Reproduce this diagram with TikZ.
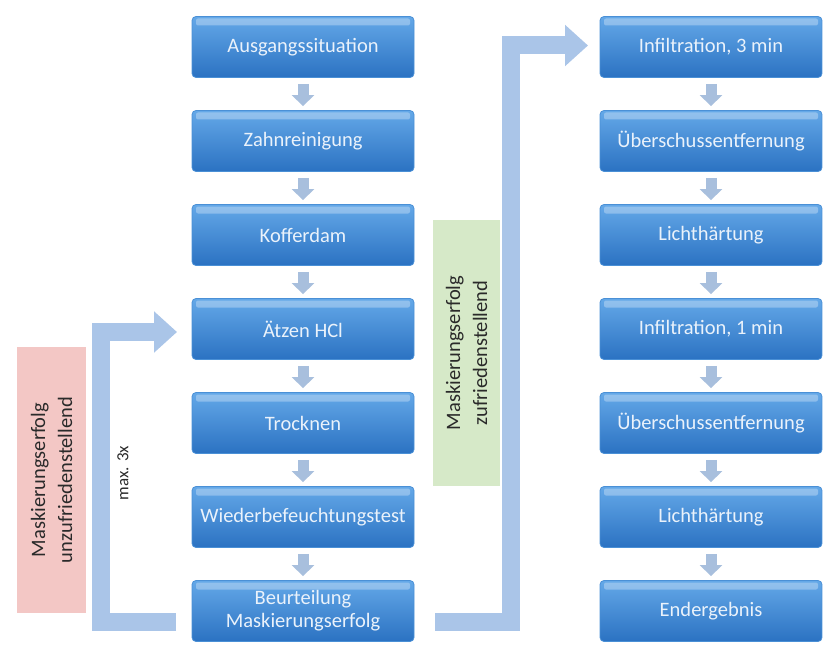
\documentclass[tikz,border=0pt]{standalone}
\usepackage{fontspec}
\setmainfont{Carlito}
\usetikzlibrary{arrows.meta,calc}
\definecolor{boxtop}{HTML}{64A8E8}
\definecolor{boxbot}{HTML}{2B72C2}
\definecolor{boxline}{HTML}{4A90D6}
\definecolor{boxtext}{HTML}{EAF2FB}
\definecolor{arrowgray}{HTML}{A8BFDD}
\definecolor{bentblue}{HTML}{AAC5E8}
\definecolor{pinkfill}{HTML}{F3C7C5}
\definecolor{greenfill}{HTML}{D6E9C8}
\definecolor{sidetext}{HTML}{2A2A2A}
\begin{document}
\begin{tikzpicture}[x=1pt,y=-1pt,
  stepbox/.style={rectangle, rounded corners=4pt, draw=boxline, line width=0.8pt,
    top color=boxtop, bottom color=boxbot, minimum width=222pt, minimum height=61pt,
    text=boxtext, font=\fontsize{20.5}{23}\selectfont, align=center, inner sep=1pt,
    path picture={\fill[white,opacity=.3,rounded corners=2pt]
      ([xshift=4pt,yshift=-2pt]path picture bounding box.north west) rectangle
      ([xshift=-4pt,yshift=-9pt]path picture bounding box.north east);}},
  flowarrow/.style={draw=arrowgray, line width=11pt,
    -{Triangle[width=22pt,length=11pt]}, shorten <=6pt, shorten >=4pt},
  bentarrow/.style={draw=bentblue, line width=18pt, line join=miter,
    -{Triangle[width=40pt,length=23pt]}},
  sidebox/.style={rectangle, rotate=90, align=center, text=sidetext,
    font=\fontsize{20.5}{27}\selectfont, inner sep=0pt}
]
\useasboundingbox (0,0) rectangle (824,650);

% feedback and forward bent arrows (behind)
\coordinate (lbstart) at (176,621.5);
\coordinate (lbtip) at (177,332);
\coordinate (rbstart) at (435,621.5);
\coordinate (rbtip) at (588,45.5);
\draw[bentarrow] (lbstart) -- (100.5,621.5) |- (lbtip);
\draw[bentarrow] (rbstart) -- (511,621.5) |- (rbtip);

% side labels
\node[sidebox, fill=pinkfill, minimum width=266pt, minimum height=69pt] (unsat) at (51.5,480)
  {Maskierungserfolg\\unzufriedenstellend};
\node[sidebox, fill=greenfill, minimum width=266pt, minimum height=67pt] (sat) at (466.5,353)
  {Maskierungserfolg\\zufriedenstellend};
\node[rotate=90, text=sidetext, font=\fontsize{17}{20}\selectfont, inner sep=0pt] (max) at (123,473) {max. 3x};

% left column
\node[stepbox] (l1) at (303,47) {Ausgangssituation};
\node[stepbox] (l2) at (303,141) {Zahnreinigung};
\node[stepbox] (l3) at (303,235) {Kofferdam};
\node[stepbox] (l4) at (303,329) {Ätzen HCl};
\node[stepbox] (l5) at (303,423) {Trocknen};
\node[stepbox] (l6) at (303,517) {Wiederbefeuchtungstest};
\node[stepbox] (l7) at (303,611) {Beurteilung\\Maskierungserfolg};

% right column
\node[stepbox] (r1) at (711,47) {Infiltration, 3 min};
\node[stepbox] (r2) at (711,141) {Überschussentfernung};
\node[stepbox] (r3) at (711,235) {Lichthärtung};
\node[stepbox] (r4) at (711,329) {Infiltration, 1 min};
\node[stepbox] (r5) at (711,423) {Überschussentfernung};
\node[stepbox] (r6) at (711,517) {Lichthärtung};
\node[stepbox] (r7) at (711,611) {Endergebnis};

\foreach \a/\b in {l1/l2,l2/l3,l3/l4,l4/l5,l5/l6,l6/l7,r1/r2,r2/r3,r3/r4,r4/r5,r5/r6,r6/r7}
  \draw[flowarrow] (\a.south) -- (\b.north);
\end{tikzpicture}
\end{document}
